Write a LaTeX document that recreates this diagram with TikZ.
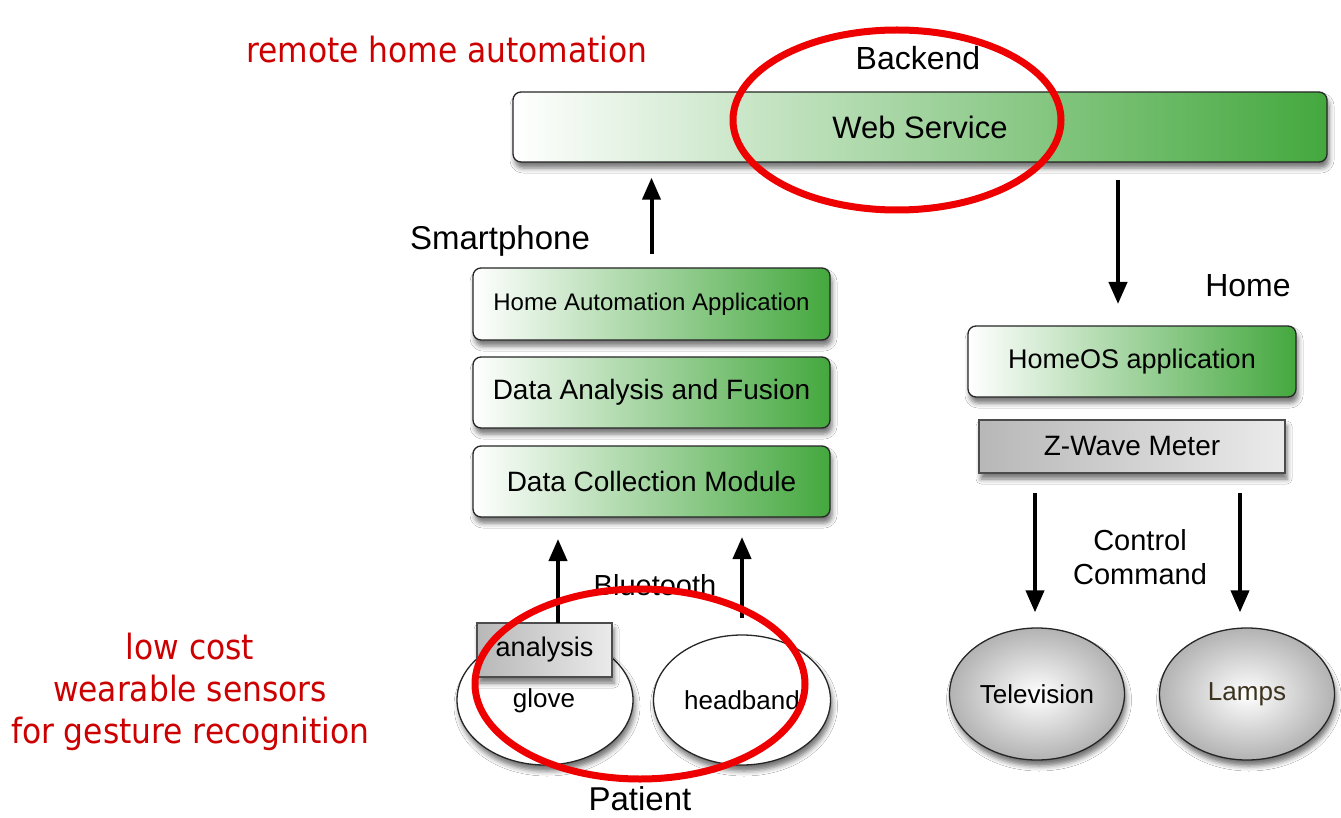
\documentclass[tikz,border=0pt]{standalone}
\usepackage{fontspec}
\setmainfont{Liberation Sans}
\newfontfamily\redfont{DejaVu Sans Condensed}
\usetikzlibrary{shadows.blur,arrows.meta,shapes.geometric}
\definecolor{boxgreen}{RGB}{68,168,62}
\definecolor{annred}{RGB}{204,0,0}
\definecolor{ringred}{RGB}{238,0,0}
\definecolor{lampbrown}{RGB}{60,50,30}
\tikzset{
  shad/.style={blur shadow={shadow xshift=2pt,shadow yshift=-6pt,shadow blur radius=5pt,shadow opacity=55}},
  gbox/.style={draw=black!85,line width=1.3pt,rounded corners=8pt,left color=white,right color=boxgreen,shad,inner sep=0pt},
  graybox/.style={draw=black!70,line width=1.2pt,left color=black!28,right color=black!8,shad,inner sep=0pt},
  wellipse/.style={ellipse,draw=black!85,line width=1.3pt,fill=white,shad,inner sep=0pt},
  gellipse/.style={ellipse,draw=black!85,line width=1.3pt,inner color=white,outer color=black!30,shad,inner sep=0pt},
  arr/.style={line width=4pt,-{Triangle[length=22pt,width=18pt]}},
  lbl/.style={inner sep=0pt},
  ring/.style={draw=ringred,line width=7pt},
  ann/.style={text=annred,inner sep=0pt,align=center,font=\redfont\fontsize{34.8}{42}\selectfont},
}
\begin{document}
\begin{tikzpicture}[x=1pt,y=-1pt]
\useasboundingbox[fill=white] (0,0) rectangle (1341,818);
% labels
\node[lbl,font=\fontsize{32}{36}\selectfont] (backend) at (918,58) {Backend};
\node[lbl,font=\fontsize{33}{36}\selectfont] (smart) at (500,241) {Smartphone};
\node[lbl,font=\fontsize{32}{36}\selectfont] (homel) at (1248,286) {Home};
\node[lbl,font=\fontsize{33}{36}\selectfont] (patient) at (640,799) {Patient};
\node[lbl,font=\fontsize{29}{36}\selectfont,align=center] (cc) at (1140,557) {Control\\[-2pt]Command};
\node[lbl,font=\fontsize{29}{36}\selectfont] (bt) at (655,585) {Bluetooth};
% boxes
\node[gbox,minimum width=814pt,minimum height=70pt,font=\fontsize{31}{36}\selectfont] (ws) at (920,127) {Web Service};
\node[gbox,minimum width=357pt,minimum height=72pt,font=\fontsize{24}{30}\selectfont] (ha) at (651.5,304) {Home Automation Application};
\node[gbox,minimum width=357pt,minimum height=71pt,font=\fontsize{28}{32}\selectfont] (daf) at (651.5,392.5) {Data Analysis and Fusion};
\node[gbox,minimum width=357pt,minimum height=71pt,font=\fontsize{28}{32}\selectfont] (dcm) at (651.5,481.5) {Data Collection Module};
\node[gbox,minimum width=328pt,minimum height=71pt,font=\fontsize{27}{32}\selectfont] (hos) at (1132,361.5) {HomeOS application};
\node[graybox,minimum width=306pt,minimum height=53pt,font=\fontsize{28}{32}\selectfont] (zw) at (1132,446.5) {Z-Wave Meter};
% ellipses
\node[gellipse,minimum width=175pt,minimum height=132pt,font=\fontsize{26}{30}\selectfont] (tv) at (1037,694) {Television};
\node[gellipse,minimum width=175pt,minimum height=132pt,font=\fontsize{26}{30}\selectfont,text=lampbrown] (lamps) at (1247,694) {Lamps};
\node[wellipse,minimum width=176pt,minimum height=130pt] (glove) at (545,700) {};
\node[lbl,font=\fontsize{26}{30}\selectfont] (glovet) at (544,701) {glove};
\node[wellipse,minimum width=177pt,minimum height=130pt,font=\fontsize{26}{30}\selectfont] (head) at (742,700) {headband};
\node[graybox,minimum width=135pt,minimum height=54pt,font=\fontsize{27}{32}\selectfont] (an) at (544.5,650) {analysis};
% connectors
\draw[arr,shorten <=13pt,shorten >=15pt] (ha.north) -- (ha.north |- ws.south);
\coordinate (wsd) at (1118,162);
\coordinate (hosu) at (1118,326);
\draw[arr,shorten <=18pt,shorten >=22pt] (wsd) -- (hosu);
\coordinate (g1) at (558,623);
\coordinate (g2) at (558,517);
\draw[arr,shorten >=22pt] (g1) -- (g2);
\coordinate (h1) at (742,618);
\coordinate (h2) at (742,517);
\draw[arr,shorten >=20pt] (h1) -- (h2);
\coordinate (z1) at (1035,473);
\coordinate (z2) at (1240,473);
\draw[arr,shorten <=20pt,shorten >=15pt] (z1) -- (z1 |- tv.north);
\draw[arr,shorten <=20pt,shorten >=15pt] (z2) -- (z2 |- lamps.north);
% red rings
\draw[ring] (897,120) ellipse [x radius=164pt,y radius=90pt];
\draw[ring] (640,684) ellipse [x radius=165pt,y radius=95pt];
% red annotations
\node[ann] (rha) at (447,50) {remote home automation};
\node[ann] (lc) at (190,692) {low cost\\wearable sensors\\for gesture recognition};
\end{tikzpicture}
\end{document}
